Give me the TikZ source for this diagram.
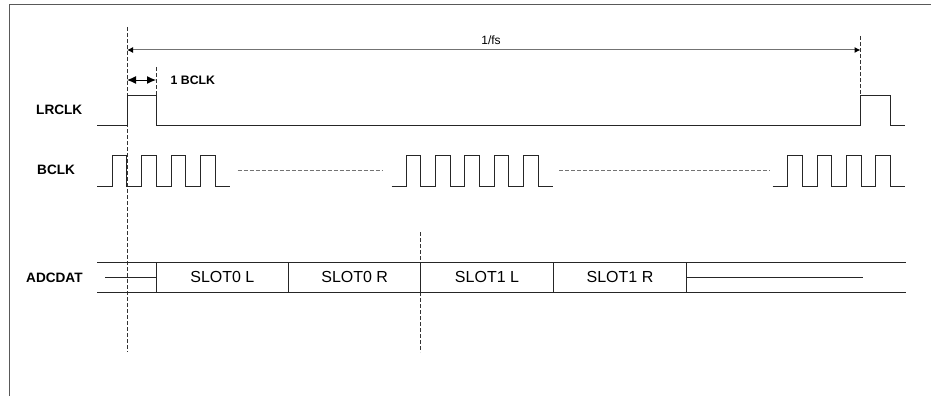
\documentclass[tikz,border=0pt]{standalone}
\usepackage{fontspec}
\setmainfont{Liberation Sans}
\usetikzlibrary{arrows.meta}
\begin{document}
\begin{tikzpicture}[x=1pt,y=-1pt,
  wave/.style={line width=1pt, color=black!85, line join=miter},
  vdash/.style={line width=0.8pt, color=black!80, dash pattern=on 4pt off 2pt},
  hdash/.style={line width=0.8pt, color=black!55, dash pattern=on 4pt off 2pt},
  siglabel/.style={anchor=west, font=\fontsize{13.6}{16}\selectfont\bfseries, inner sep=0pt},
  slot/.style={draw=black!85, line width=1pt, minimum height=30pt, inner sep=0pt, font=\fontsize{16}{18}\selectfont},
  bus/.style={line width=1pt, color=black!85}]
\useasboundingbox (0,0) rectangle (931,396);
% frame
\draw[line width=1.4pt, black!65] (9.5,396) -- (9.5,4.5) -- (931,4.5);

% time markers
\coordinate (m0top) at (127,27);   \coordinate (m0bot) at (127,352);
\coordinate (m1top) at (156,67);   \coordinate (m1bot) at (156,95);
\coordinate (m2top) at (860.5,36); \coordinate (m2bot) at (860.5,98);
\coordinate (m3top) at (420.7,232);\coordinate (m3bot) at (420.7,352);
\draw[vdash] (m0top) -- (m0bot);
\draw[vdash] (m1top) -- (m1bot);
\draw[vdash] (m2top) -- (m2bot);
\draw[vdash] (m3top) -- (m3bot);

% 1/fs
\coordinate (fsL) at (127,50); \coordinate (fsR) at (860.5,50);
\draw[line width=1pt, black!55, {Latex[length=6pt,width=6pt,black]}-{Latex[length=6pt,width=6pt,black]}] (fsL) -- (fsR);
\node[font=\fontsize{12}{14}\selectfont] (fs) at (491,40) {1/fs};

% 1 BCLK
\coordinate (bcL) at (127,80); \coordinate (bcR) at (156,80);
\draw[line width=1pt, black, {Latex[length=9pt,width=8pt]}-{Latex[length=9pt,width=8pt]}] (bcL) -- (bcR);
\node[siglabel, font=\fontsize{12.3}{14}\selectfont\bfseries] (onebclk) at (170.5,80) {1 BCLK};

% labels
\node[siglabel] (lrclk) at (36,110) {LRCLK};
\node[siglabel] (bclk) at (37,170) {BCLK};
\node[siglabel] (adcdat) at (26,278) {ADCDAT};

% LRCLK waveform
\draw[wave] (97,125) -- (127,125) -- (127,95.5) -- (156,95.5) -- (156,125)
  -- (860.5,125) -- (860.5,95.5) -- (890.5,95.5) -- (890.5,125) -- (905,125);

% BCLK waveform
\draw[wave] (97,186) \foreach \k in {0,...,3}{ -- ({112.3+29.4*\k},186) -- ++(0,-30.5) -- ++(14.6,0) -- ++(0,30.5)} -- (229.5,186);
\draw[wave] (391.7,186) \foreach \k in {0,...,4}{ -- ({406+29.4*\k},186) -- ++(0,-30.5) -- ++(14.6,0) -- ++(0,30.5)} -- (552.7,186);
\draw[wave] (772.7,186) \foreach \k in {0,...,3}{ -- ({787.7+29.4*\k},186) -- ++(0,-30.5) -- ++(14.6,0) -- ++(0,30.5)} -- (905.3,186);
\draw[hdash] (237.7,170) -- (383,170);
\draw[hdash] (559,170) -- (770,170);

% ADCDAT bus
\draw[bus] (97,262) -- (905.7,262);
\draw[bus] (97,292) -- (905.7,292);
\draw[bus] (105,277) -- (156,277);
\draw[bus] (686.7,277) -- (862.7,277);
\node[slot, minimum width=132.7pt] (s0l) at (222.35,277) {SLOT0 L};
\node[slot, minimum width=132pt] (s0r) at (354.7,277) {SLOT0 R};
\node[slot, minimum width=132.6pt] (s1l) at (487,277) {SLOT1 L};
\node[slot, minimum width=133.4pt] (s1r) at (620,277) {SLOT1 R};
\end{tikzpicture}
\end{document}
